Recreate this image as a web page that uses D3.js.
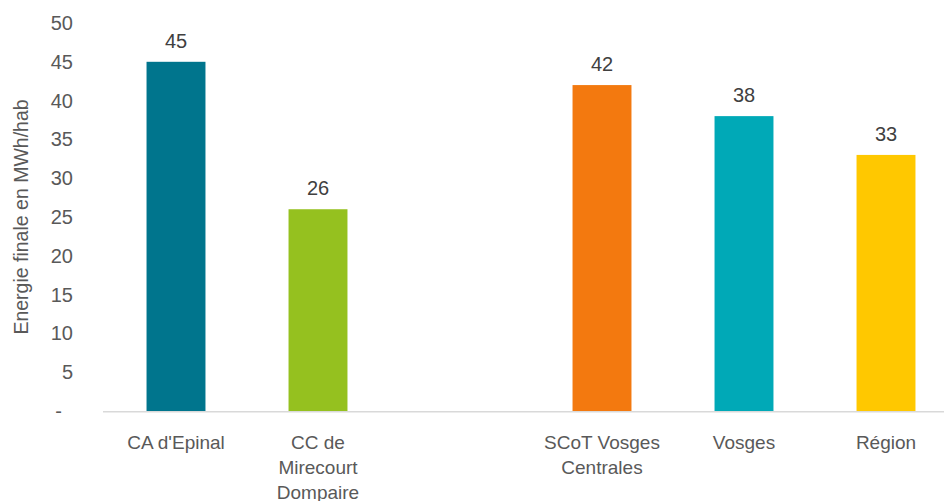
<!DOCTYPE html>
<html>
<head>
<meta charset="utf-8">
<script src="https://cdn.jsdelivr.net/npm/d3@7"></script>
<style>
  html, body { margin: 0; padding: 0; background: #ffffff; }
  svg { display: block; font-family: "Liberation Sans", Arial, sans-serif; }
</style>
</head>
<body>
<svg id="chart" width="944" height="501"></svg>
<script>
// Final energy consumption per inhabitant (MWh/hab) by territory.
// The empty category leaves a gap between the intercommunalities and the reference areas.
const categories = ["CA d'Epinal", "CC de\nMirecourt\nDompaire", "", "SCoT Vosges\nCentrales", "Vosges", "Région"];
const values = [45, 26, null, 42, 38, 33];
const barColors = ["#00758d", "#95c11f", null, "#f3790f", "#00a9b7", "#ffc800"];
const yTicks = [0, 5, 10, 15, 20, 25, 30, 35, 40, 45, 50];
const yTitle = "Energie finale en MWh/hab";

const svg = d3.select("#chart");
const W = 944, H = 501;
const plot = { left: 105, right: 957, top: 23, bottom: 411 };

const x = d3.scaleBand()
  .domain(d3.range(categories.length))
  .range([plot.left, plot.right])
  .paddingInner(0).paddingOuter(0);
const barW = x.bandwidth() * 0.415;

const y = d3.scaleLinear().domain([0, 50]).range([plot.bottom, plot.top]);

// y-axis tick labels (zero shown as a dash, accounting style)
const yAxis = d3.axisLeft(y)
  .tickValues(yTicks)
  .tickSize(0)
  .tickPadding(0)
  .tickFormat(d => d === 0 ? "-" : d3.format("d")(d));
const gy = svg.append("g")
  .attr("transform", `translate(73,0)`)
  .call(yAxis);
gy.select(".domain").remove();
gy.selectAll("text")
  .attr("fill", "#595959")
  .style("font-size", "20px")
  .style("font-family", "'Liberation Sans', Arial, sans-serif")
  .attr("dx", d => d === 0 ? -11 : 0);

// y-axis title
svg.append("text")
  .attr("transform", `translate(28,217) rotate(-90)`)
  .attr("text-anchor", "middle")
  .attr("fill", "#595959")
  .style("font-size", "19.5px")
  .text(yTitle);

// bars
const data = categories.map((c, i) => ({ i, c, v: values[i], color: barColors[i] }));
const withValue = data.filter(d => d.v !== null);

svg.append("g").selectAll("rect")
  .data(withValue)
  .join("rect")
  .attr("x", d => x(d.i) + (x.bandwidth() - barW) / 2)
  .attr("width", barW)
  .attr("y", d => y(d.v))
  .attr("height", d => y(0) - y(d.v))
  .attr("fill", d => d.color);

// baseline
svg.append("line")
  .attr("x1", plot.left - 2).attr("x2", W)
  .attr("y1", y(0) + 0.75).attr("y2", y(0) + 0.75)
  .attr("stroke", "#d9d9d9")
  .attr("stroke-width", 1.5);

// value labels
svg.append("g").selectAll("text")
  .data(withValue)
  .join("text")
  .attr("x", d => x(d.i) + x.bandwidth() / 2)
  .attr("y", d => y(d.v) - 14)
  .attr("text-anchor", "middle")
  .attr("fill", "#404040")
  .style("font-size", "20px")
  .text(d => d3.format("d")(d.v));

// category labels, wrapped on line breaks
const catG = svg.append("g").selectAll("text")
  .data(data.filter(d => d.c !== ""))
  .join("text")
  .attr("text-anchor", "middle")
  .attr("fill", "#595959")
  .style("font-size", "19px");
catG.each(function(d) {
  const t = d3.select(this);
  d.c.split("\n").forEach((line, k) => {
    t.append("tspan")
      .attr("x", x(d.i) + x.bandwidth() / 2)
      .attr("y", 449 + k * 25)
      .text(line);
  });
});
</script>
</body>
</html>
